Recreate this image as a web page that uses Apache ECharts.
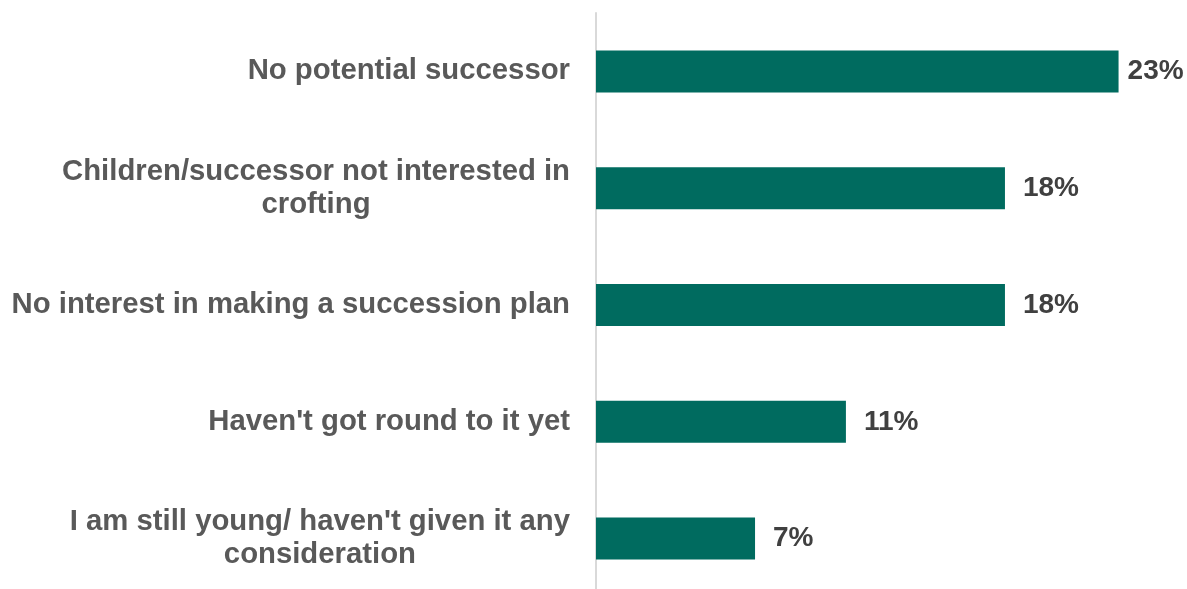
<!DOCTYPE html>
<html>
<head>
<meta charset="utf-8">
<script src="https://cdn.jsdelivr.net/npm/echarts@6/dist/echarts.min.js"></script>
<style>
  html, body { margin: 0; padding: 0; background: #fff; overflow: hidden; }
  /* the plot runs slightly past the bottom edge of the window */
  #chart { width: 1187px; height: 600px; }
</style>
</head>
<body>
<div id="chart"></div>
<script>
// Reasons given for not having a succession plan (share of respondents, %)
const categories = [
  'No potential successor',
  'Children/successor not interested in\ncrofting',
  'No interest in making a succession plan',
  "Haven't got round to it yet",
  "I am still young/ haven't given it any\nconsideration"
];
const values = [23, 18, 18, 11, 7];

const FONT = "'Liberation Sans', Arial, sans-serif";

const chart = echarts.init(document.getElementById('chart'));
chart.setOption({
  animation: false,
  grid: { left: 596, top: 13, width: 568, height: 584 },
  xAxis: {
    type: 'value', min: 0, max: 25,
    show: false
  },
  yAxis: {
    type: 'category',
    inverse: true,
    data: categories,
    axisLine: { show: true, lineStyle: { color: '#d9d9d9', width: 2 } },
    axisTick: { show: false },
    axisLabel: {
      margin: 26,
      formatter: v => '{c|' + v + '}',
      rich: {
        c: {
          align: 'center',
          fontFamily: FONT,
          fontWeight: 'bold', fontSize: 29.3, lineHeight: 33, color: '#595959'
        }
      }
    }
  },
  series: [{
    type: 'bar',
    // the longest bar's label sits a little closer to its bar end
    data: values.map((v, i) => i === 0 ? { value: v, label: { distance: 9 } } : v),
    barWidth: 42,
    itemStyle: { color: '#006b5f' },
    label: {
      show: true, position: 'right', distance: 18,
      formatter: '{c}%',
      fontFamily: FONT,
      fontWeight: 'bold', fontSize: 28, color: '#404040'
    }
  }]
});
</script>
</body>
</html>
